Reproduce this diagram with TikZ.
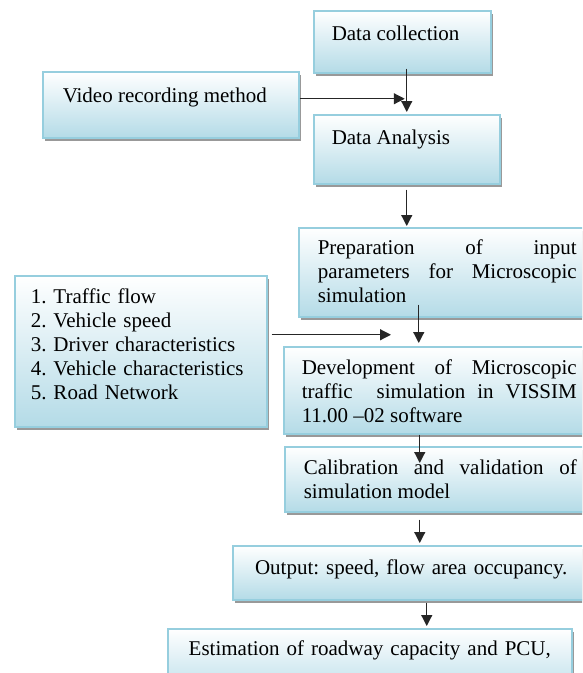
\documentclass[tikz,border=0pt]{standalone}
\usepackage{fontspec}
\setmainfont{Liberation Serif}
\usetikzlibrary{arrows.meta,shadows,calc}
\definecolor{boxline}{RGB}{150,206,222}
\definecolor{boxfill}{RGB}{180,219,231}
\setlength{\parindent}{0pt}
\frenchspacing
\tikzset{
  stage/.style={draw=boxline, line width=1.5pt, top color=white, bottom color=boxfill,
    drop shadow={shadow xshift=2.5pt, shadow yshift=-3pt, fill=black!40, opacity=1},
    anchor=north west, inner ysep=0pt, inner xsep=18pt, align=justify,
    font=\fontsize{21}{24}\selectfont\frenchspacing},
  flow/.style={->, line width=1.2pt, draw=black!85},
}
\begin{document}
\begin{tikzpicture}[x=1pt,y=-1pt,>={Triangle[length=11pt,width=11pt]}]
\path[use as bounding box,clip](0,0) rectangle (582,673);

\node[stage,text width=141pt,text height=30pt,text depth=32pt](collect) at (313,10){Data collection};
\node[stage,inner xsep=20pt,text width=216pt,text height=31pt,text depth=35pt](video) at (42,71){Video recording method};
\node[stage,text width=150pt,text height=30pt,text depth=39pt](analysis) at (313,114){Data Analysis};
\node[stage,inner xsep=19pt,text width=259pt,text height=27pt,text depth=62pt](prep) at (298,227)
  {Preparation of input\linebreak parameters for Microscopic\linebreak simulation};
\node[stage,align=left,inner xsep=16pt,text width=220pt,text height=28pt,text depth=123pt](list) at (14,275)
  {1. Traffic flow\\2. Vehicle speed\\3. Driver characteristics\\4. Vehicle characteristics\\5. Road Network};
\node[stage,text width=275pt,text height=28pt,text depth=59pt](dev) at (283,346)
  {Development of Microscopic\linebreak traffic\ \ simulation in VISSIM\linebreak 11.00 --02 software};
\node[stage,inner xsep=19pt,text width=273pt,text height=28pt,text depth=37pt](calib) at (284,446)
  {Calibration and validation of\linebreak simulation model};
\node[stage,align=center,text width=321pt,text height=29pt,text depth=25pt](output) at (232,545)
  {Output: speed, flow area occupancy.};
\node[stage,align=center,text width=368pt,text height=27pt,text depth=45pt](estim) at (167,628)
  {Estimation of roadway capacity and PCU,};

\draw[flow]($(collect.south)+(4.5,-5)$)--($(analysis.north)+(0,-2)$);
\draw[flow]($(video.east)+(0,-6)$)--($(video.east -| analysis.north)+(-2,-6)$);
\draw[flow]($(analysis.south)+(0,5)$)--($(analysis.south |- prep.north)+(0,-1)$);
\draw[flow]($(dev.north |- prep.south)+(-20.5,-13)$)--($(dev.north)+(-20.5,-3)$);
\draw[flow]($(list.east)+(4,-16.5)$)--($(list.east -| dev.west)+(108,-16.5)$);
\draw[flow]($(dev.south)+(-19.5,0)$)--($(calib.north -| dev.south)+(-19.5,17)$);
\draw[flow]($(calib.south)+(-20.5,7)$)--($(output.north -| calib.south)+(-20.5,-2)$);
\draw[flow]($(output.south)+(15.5,2)$)--($(estim.north -| output.south)+(15.5,-2)$);

\end{tikzpicture}
\end{document}
